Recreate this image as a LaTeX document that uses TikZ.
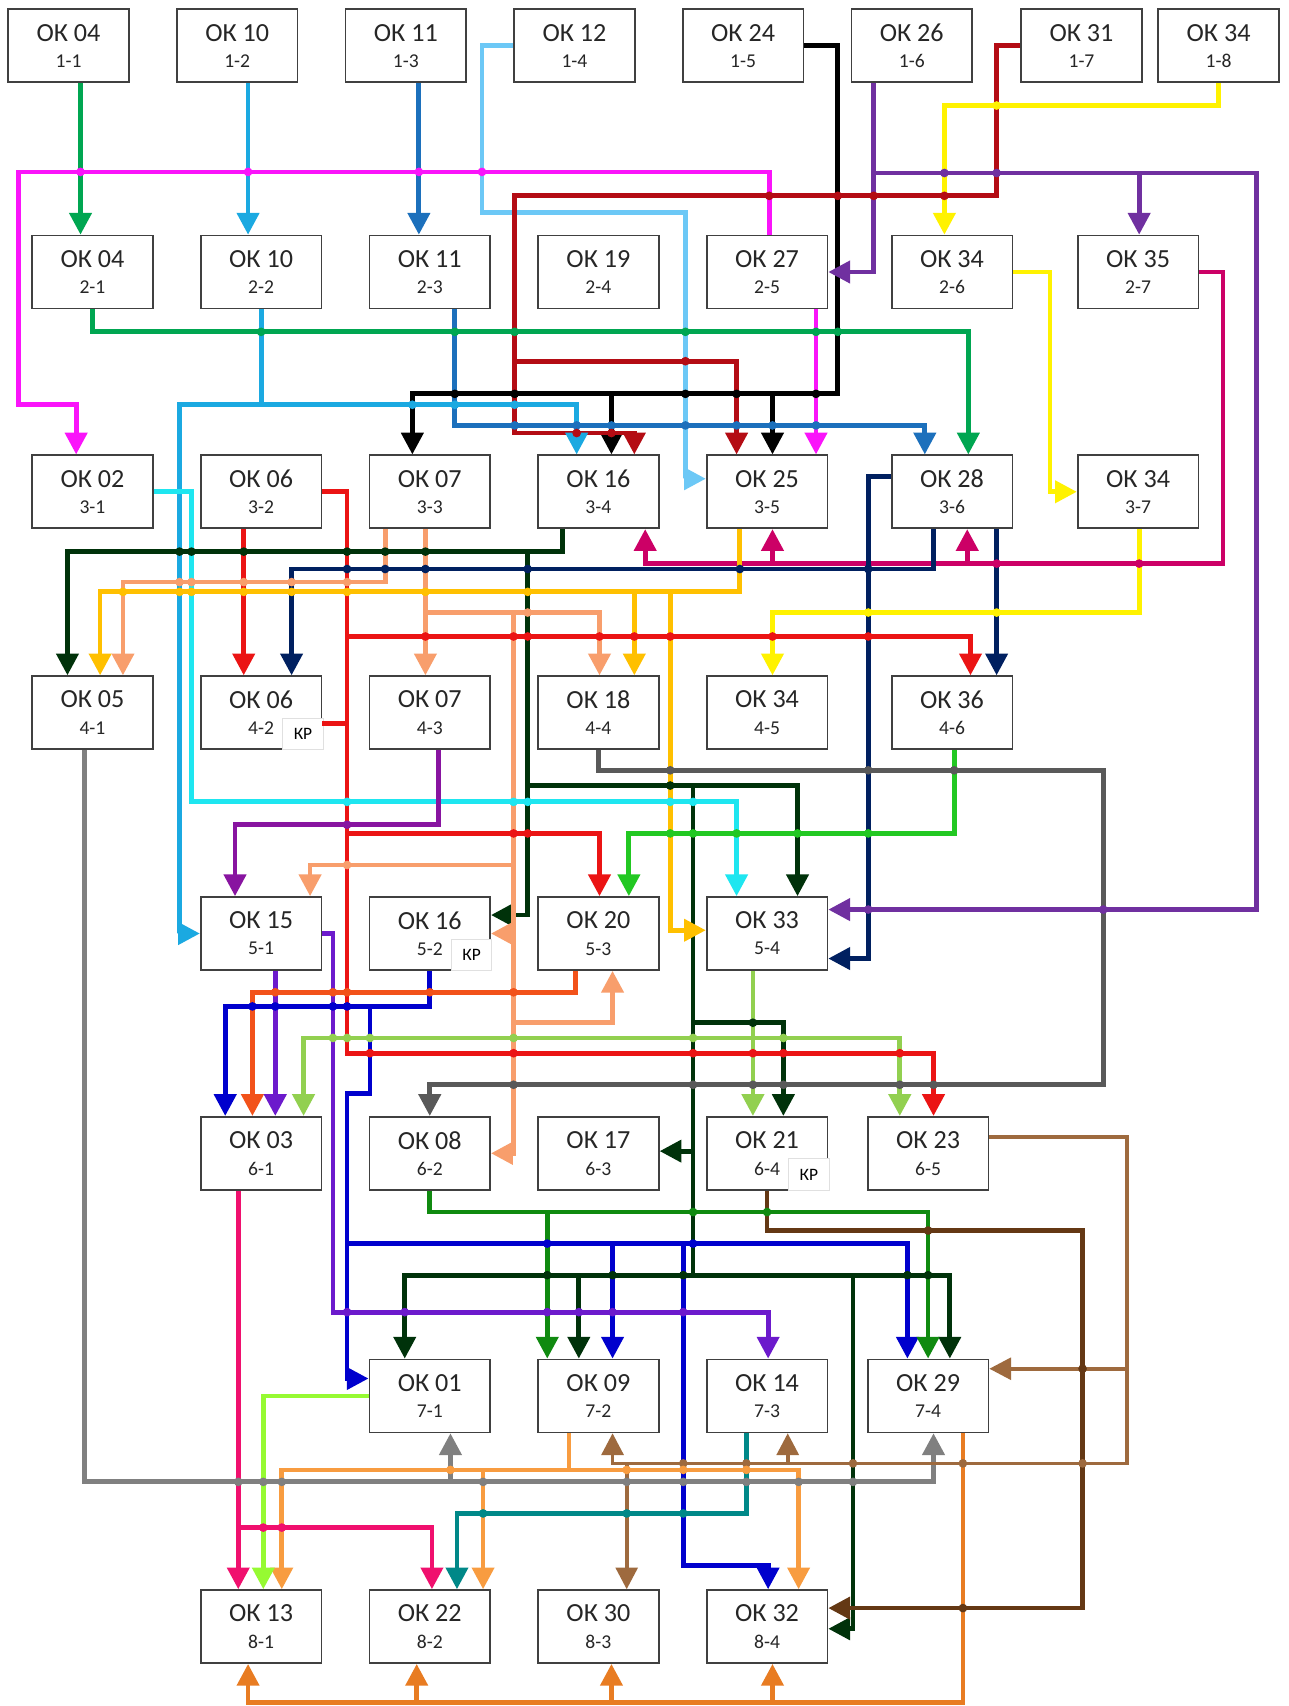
\documentclass[tikz,border=0pt]{standalone}
\usepackage{fontspec}
\setmainfont{Carlito}
\usetikzlibrary{arrows.meta}

\definecolor{WireGreen}{RGB}{0,166,81}
\definecolor{WireSky}{RGB}{27,169,225}
\definecolor{WireSteel}{RGB}{28,112,188}
\definecolor{WireMagenta}{RGB}{250,20,250}
\definecolor{WirePaleSky}{RGB}{108,200,246}
\definecolor{WirePurple}{RGB}{112,48,160}
\definecolor{WireDarkRed}{RGB}{180,12,20}
\definecolor{WireYellow}{RGB}{255,242,0}
\definecolor{WireRasp}{RGB}{204,0,102}
\definecolor{WireCyan}{RGB}{30,230,240}
\definecolor{WireRed}{RGB}{235,20,20}
\definecolor{WireDarkGreen}{RGB}{0,50,10}
\definecolor{WireNavy}{RGB}{0,32,96}
\definecolor{WirePeach}{RGB}{248,158,108}
\definecolor{WireAmber}{RGB}{255,192,0}
\definecolor{WireGrey}{RGB}{89,89,89}
\definecolor{WireLeaf}{RGB}{34,200,34}
\definecolor{WireViolet}{RGB}{136,20,160}
\definecolor{WireVermilion}{RGB}{242,82,26}
\definecolor{WireBlue}{RGB}{0,0,205}
\definecolor{WireIndigo}{RGB}{108,26,204}
\definecolor{WireLime}{RGB}{146,208,80}
\definecolor{WireForest}{RGB}{16,138,16}
\definecolor{WireBrown}{RGB}{100,56,20}
\definecolor{WireTan}{RGB}{158,106,62}
\definecolor{WireSilver}{RGB}{128,128,128}
\definecolor{WireOrange}{RGB}{248,156,64}
\definecolor{WireTeal}{RGB}{0,136,136}
\definecolor{WirePink}{RGB}{240,16,110}
\definecolor{WireChartreuse}{RGB}{150,250,50}
\definecolor{WireOchre}{RGB}{232,124,34}

% one course box: name, x, y, number, place
\newcommand{\okbox}[5]{%
  \node[okcell] (#1) at (#2,#3) {};
  \node[oknum] (#1t) at ([yshift=6pt]#1.center) {ОК #4};
  \node[okpos] (#1s) at ([yshift=-7pt]#1.center) {#5};
}

\begin{document}
\begin{tikzpicture}[x=0.5pt, y=-0.5pt,
    okcell/.style={draw=black!75, line width=0.8pt, fill=white, minimum width=55.5pt, minimum height=33.5pt, inner sep=0pt},
    oknum/.style={font=\fontsize{12}{14}\selectfont, text=black!85, inner sep=0pt},
    okpos/.style={font=\fontsize{9}{11}\selectfont, text=black!85, inner sep=0pt},
    krnote/.style={draw=black!12, line width=0.4pt, fill=white, font=\fontsize{8}{9}\selectfont, minimum width=18.5pt, minimum height=14.5pt, inner sep=0pt},
    wire/.style={line width=2.2pt},
    arr/.style={-{Triangle[length=10pt,width=10pt]}}]
    \fill[white] (0,0) rectangle (1184,1568);
    \useasboundingbox (0,0) rectangle (1184,1568);

    % Row 1
    \okbox{n11}{63}{42}{04}{1-1}
    \okbox{n12}{218}{42}{10}{1-2}
    \okbox{n13}{373}{42}{11}{1-3}
    \okbox{n14}{528}{42}{12}{1-4}
    \okbox{n15}{683}{42}{24}{1-5}
    \okbox{n16}{838}{42}{26}{1-6}
    \okbox{n17}{994}{42}{31}{1-7}
    \okbox{n18}{1120}{42}{34}{1-8}
    % Row 2
    \okbox{n21}{85}{250}{04}{2-1}
    \okbox{n22}{240}{250}{10}{2-2}
    \okbox{n23}{395}{250}{11}{2-3}
    \okbox{n24}{550}{250}{19}{2-4}
    \okbox{n25}{705}{250}{27}{2-5}
    \okbox{n26}{875}{250}{34}{2-6}
    \okbox{n27}{1046}{250}{35}{2-7}
    % Row 3
    \okbox{n31}{85}{452}{02}{3-1}
    \okbox{n32}{240}{452}{06}{3-2}
    \okbox{n33}{395}{452}{07}{3-3}
    \okbox{n34}{550}{452}{16}{3-4}
    \okbox{n35}{705}{452}{25}{3-5}
    \okbox{n36}{875}{452}{28}{3-6}
    \okbox{n37}{1046}{452}{34}{3-7}
    % Row 4
    \okbox{n41}{85}{655}{05}{4-1}
    \okbox{n42}{240}{655}{06}{4-2}
    \okbox{n43}{395}{655}{07}{4-3}
    \okbox{n44}{550}{655}{18}{4-4}
    \okbox{n45}{705}{655}{34}{4-5}
    \okbox{n46}{875}{655}{36}{4-6}
    % Row 5
    \okbox{n51}{240}{858}{15}{5-1}
    \okbox{n52}{395}{858}{16}{5-2}
    \okbox{n53}{550}{858}{20}{5-3}
    \okbox{n54}{705}{858}{33}{5-4}
    % Row 6
    \okbox{n61}{240}{1060}{03}{6-1}
    \okbox{n62}{395}{1060}{08}{6-2}
    \okbox{n63}{550}{1060}{17}{6-3}
    \okbox{n64}{705}{1060}{21}{6-4}
    \okbox{n65}{853}{1060}{23}{6-5}
    % Row 7
    \okbox{n71}{395}{1283}{01}{7-1}
    \okbox{n72}{550}{1283}{09}{7-2}
    \okbox{n73}{705}{1283}{14}{7-3}
    \okbox{n74}{853}{1283}{29}{7-4}
    % Row 8
    \okbox{n81}{240}{1495}{13}{8-1}
    \okbox{n82}{395}{1495}{22}{8-2}
    \okbox{n83}{550}{1495}{30}{8-3}
    \okbox{n84}{705}{1495}{32}{8-4}

    % Notes
    \node[krnote] (n42k) at ([xshift=19.25pt,yshift=-9.75pt]n42.center) {КР};
    \node[krnote] (n52k) at ([xshift=19.25pt,yshift=-9.75pt]n52.center) {КР};
    \node[krnote] (n64k) at ([xshift=19.25pt,yshift=-9.75pt]n64.center) {КР};

    % Wires from row 1
    \draw[wire, WireGreen, arr] (n11.south -| 74,0) -- (n21.north -| 74,0);
    \draw[wire, WireSky, arr] (n12.south -| 228,0) -- (n22.north -| 228,0);
    \draw[wire, WireSteel, arr] (n13.south -| 385,0) -- (n23.north -| 385,0);
    \draw[wire, WirePaleSky, arr] (n14.west) -| (443,195) -| (630,440) -- (n35.west |- 0,440);
    \draw[wire, black, arr] (n15.east) -| (770,362) -| (n33.north -| 379,0);
    \draw[wire, black, arr] (562,362) -- (n34.north -| 562,0);
    \draw[wire, black, arr] (710,362) -- (n35.north -| 710,0);
    \draw[wire, WirePurple, arr] (n16.south -| 803,0) |- (n25.east);
    \draw[wire, WirePurple, arr] (803,159) -| (1155,836) -- (n54.east |- 0,836);
    \draw[wire, WirePurple, arr] (1047,159) -- (n27.north -| 1047,0);
    \draw[wire, WireDarkRed, arr] (n17.west) -| (916,180) -| (473,398) -| (n34.north -| 583,0);
    \draw[wire, WireDarkRed, arr] (473,332) -| (n35.north -| 677,0);
    \draw[wire, WireYellow, arr] (n18.south) |- (868,97) -- (n26.north -| 868,0);

    % Wires from row 2
    \draw[wire, WireMagenta, arr] (n25.north -| 707,0) |- (17,158) |- (70,372) -- (n31.north -| 70,0);
    \draw[wire, WireMagenta, arr] (n25.south -| 750,0) -- (n35.north -| 750,0);
    \draw[wire, WireYellow, arr] (n26.east) -| (965,452) -- (n37.west);
    \draw[wire, WireRasp, arr] (n27.east) -| (1124,518) -| (n34.south -| 593,0);
    \draw[wire, WireRasp, arr] (710,518) -- (n35.south -| 710,0);
    \draw[wire, WireRasp, arr] (889,518) -- (n36.south -| 889,0);
    \draw[wire, WireSteel, arr] (n23.south -| 418,0) |- (850,391) -- (n36.north -| 850,0);
    \draw[wire, WireSky, arr] (n22.south) |- (165,372) |- (n51.west);
    \draw[wire, WireSky, arr] (240,372) -| (n34.north -| 530,0);
    \draw[wire, WireGreen, arr] (n21.south) |- (890,305) -- (n36.north -| 890,0);

    % Wires from row 3
    \draw[wire, WireCyan, arr] (n31.east) -| (176,737) -| (n54.north -| 677,0);
    \draw[wire, WireRed, arr] (n32.east) -| (319,968) -| (n65.north -| 858,0);
    \draw[wire, WireRed, arr] (319,585) -| (n46.north -| 892,0);
    \draw[wire, WireRed, arr] (319,766) -| (n53.north -| 551,0);
    \draw[wire, WireRed] (n42.east |- 0,665) -- (319,665);
    \draw[wire, WireRed, arr] (n32.south -| 224,0) -- (n42.north -| 224,0);
    \draw[wire, WireDarkGreen, arr] (n34.south -| 517,0) |- (62,507) -- (n41.north -| 62,0);
    \draw[wire, WireDarkGreen, arr] (485,507) |- (n52.east |- 0,841);
    \draw[wire, WireDarkGreen, arr] (485,722) -| (n54.north -| 733,0);
    \draw[wire, WireDarkGreen] (637,722) -- (637,1172);
    \draw[wire, WireDarkGreen, arr] (637,940) -| (n64.north -| 720,0);
    \draw[wire, WireDarkGreen, arr] (637,1058) -- (n63.east |- 0,1058);
    \draw[wire, WireDarkGreen, arr] (637,1172) -| (n71.north -| 372,0);
    \draw[wire, WireDarkGreen, arr] (637,1172) -| (n74.north -| 873,0);
    \draw[wire, WireDarkGreen, arr] (532,1172) -- (n72.north -| 532,0);
    \draw[wire, WireDarkGreen, arr] (784,1172) |- (n84.east |- 0,1497);
    \draw[wire, WireNavy, arr] (n36.south -| 858,0) |- (268,523) -- (n42.north -| 268,0);
    \draw[wire, WireNavy, arr] (n36.west |- 0,438) -| (798,881) -- (n54.east |- 0,881);
    \draw[wire, WireNavy, arr] (n36.south -| 916,0) -- (n46.north -| 916,0);
    \draw[wire, WirePeach, arr] (n33.south -| 354,0) |- (113,535) -- (n41.north -| 113,0);
    \draw[wire, WirePeach, arr] (n33.south -| 391,0) -- (n43.north -| 391,0);
    \draw[wire, WirePeach, arr] (391,563) -| (n44.north -| 551,0);
    \draw[wire, WirePeach, arr] (472,563) |- (n62.east |- 0,1060);
    \draw[wire, WirePeach, arr] (472,795) -| (n51.north -| 285,0);
    \draw[wire, WirePeach, arr] (472,858) -- (n52.east |- 0,858);
    \draw[wire, WirePeach, arr] (472,940) -| (n53.south -| 563,0);
    \draw[wire, WireAmber, arr] (n35.south -| 680,0) |- (92,544) -- (n41.north -| 92,0);
    \draw[wire, WireAmber, arr] (583,544) -- (n44.north -| 583,0);
    \draw[wire, WireAmber, arr] (616,544) |- (n54.west |- 0,855);
    \draw[wire, WireYellow, arr] (n37.south -| 1047,0) |- (710,563) -- (n45.north -| 710,0);

    % Wires from row 4
    \draw[wire, WireGrey, arr] (n44.south) |- (1014,708) |- (395,997) -- (n62.north);
    \draw[wire, WireLeaf, arr] (n46.south -| 877,0) |- (578,766) -- (n53.north -| 578,0);
    \draw[wire, WireViolet, arr] (n43.south -| 403,0) |- (216,758) -- (n51.north -| 216,0);
    \draw[wire, WireSilver, arr] (n41.south -| 78,0) |- (858,1362) -- (n74.south -| 858,0);
    \draw[wire, WireSilver, arr] (414,1362) -- (n71.south -| 414,0);

    % Wires from row 5
    \draw[wire, WireVermilion, arr] (n53.south -| 529,0) |- (232,912) -- (n61.north -| 232,0);
    \draw[wire, WireBlue, arr] (n52.south) |- (207,925) -- (n61.north -| 207,0);
    \draw[wire, WireBlue, arr] (340,925) |- (319,1005) |- (n71.west |- 0,1267);
    \draw[wire, WireBlue, arr] (319,1143) -| (n74.north -| 834,0);
    \draw[wire, WireBlue, arr] (563,1143) -- (n72.north -| 563,0);
    \draw[wire, WireBlue, arr] (628,1143) |- (706,1439) -- (n84.north -| 706,0);
    \draw[wire, WireIndigo, arr] (n51.south -| 253,0) -- (n61.north -| 253,0);
    \draw[wire, WireIndigo, arr] (n51.east) -| (306,1206) -| (n73.north -| 706,0);
    \draw[wire, WireLime, arr] (n54.south -| 692,0) -- (n64.north -| 692,0);
    \draw[wire, WireLime, arr] (692,954) -| (n61.north -| 279,0);
    \draw[wire, WireLime, arr] (692,954) -| (n65.north -| 827,0);

    % Wires from row 6
    \draw[wire, WireForest, arr] (n62.south) -- (395,1114) -| (n74.north);
    \draw[wire, WireForest, arr] (503,1114) -- (n72.north -| 503,0);
    \draw[wire, WireBrown, arr] (n64.south) |- (995,1131) |- (n84.east |- 0,1478);
    \draw[wire, WireTan, line width=1.7pt, arr] (n65.east |- 0,1045) -| (1036,1345) -| (n72.south -| 563,0);
    \draw[wire, WireTan, line width=1.7pt, arr] (1036,1258) -- (n74.east |- 0,1258);
    \draw[wire, WireTan, line width=1.7pt, arr] (724,1345) -- (n73.south -| 724,0);
    \draw[wire, WireTan, line width=1.7pt, arr] (576,1345) -- (n83.north -| 576,0);
    \draw[wire, WirePink, arr] (n61.south -| 219,0) -- (n81.north -| 219,0);
    \draw[wire, WirePink, arr] (219,1404) -| (n82.north -| 397,0);

    % Wires from row 7
    \draw[wire, WireOrange, arr] (n72.south -| 523,0) |- (259,1351) -- (n81.north -| 259,0);
    \draw[wire, WireOrange, arr] (523,1351) -| (n84.north -| 734,0);
    \draw[wire, WireOrange, arr] (444,1351) -- (n82.north -| 444,0);
    \draw[wire, WireTeal, arr] (n73.south -| 686,0) |- (420,1391) -- (n82.north -| 420,0);
    \draw[wire, WireChartreuse, arr] (n71.west) -| (n81.north -| 242,0);
    \draw[wire, WireOchre, arr] (n74.south -| 885,0) |- (228,1565) -- (n81.south -| 228,0);
    \draw[wire, WireOchre, arr] (383,1565) -- (n82.south -| 383,0);
    \draw[wire, WireOchre, arr] (562,1565) -- (n83.south -| 562,0);
    \draw[wire, WireOchre, arr] (710,1565) -- (n84.south -| 710,0);

    % Crossing dots
    \foreach \x in {74,228,385,443} \fill[WireMagenta] (\x,158) circle (4);
    \foreach \x in {868,916} \fill[WirePurple] (\x,159) circle (4);
    \fill[WireYellow] (916,97) circle (4);
    \foreach \x in {707,770,803,868} \fill[WireDarkRed] (\x,180) circle (4);
    \foreach \x in {240,418,473,630,750,770} \fill[WireGreen] (\x,305) circle (4);
    \fill[WireDarkRed] (630,332) circle (4);
    \foreach \x in {418,473,630,677,750} \fill[black] (\x,362) circle (4);
    \foreach \x in {379,418,473} \fill[WireSky] (\x,372) circle (4);
    \foreach \x in {473,530,562,630,677,710,750} \fill[WireSteel] (\x,391) circle (4);
    \foreach \x in {530,562} \fill[WireDarkRed] (\x,398) circle (4);
    \foreach \x in {165,176,224,319,354,391} \fill[WireDarkGreen] (\x,507) circle (4);
    \foreach \x in {916,1047} \fill[WireRasp] (\x,518) circle (4);
    \foreach \x in {319,354,391,485,680,798} \fill[WireNavy] (\x,523) circle (4);
    \foreach \x in {165,176,224,268,319} \fill[WirePeach] (\x,535) circle (4);
    \foreach \x in {113,165,176,224,268,319,391,485} \fill[WireAmber] (\x,544) circle (4);
    \fill[WirePeach] (485,563) circle (4);
    \foreach \x in {798,916} \fill[WireYellow] (\x,563) circle (4);
    \foreach \x in {391,472,485,551,583,616,710,798} \fill[WireRed] (\x,585) circle (4);
    \foreach \x in {616,798,877} \fill[WireGrey] (\x,708) circle (4);
    \fill[WireDarkGreen] (616,722) circle (4);
    \foreach \x in {319,472,485,616,637} \fill[WireCyan] (\x,737) circle (4);
    \fill[WireViolet] (319,758) circle (4);
    \foreach \x in {472,485} \fill[WireRed] (\x,766) circle (4);
    \foreach \x in {616,637,677,733,798} \fill[WireLeaf] (\x,766) circle (4);
    \fill[WirePeach] (319,795) circle (4);
    \foreach \x in {798,1014} \fill[WirePurple] (\x,836) circle (4);
    \foreach \x in {253,306,319,395,472} \fill[WireVermilion] (\x,912) circle (4);
    \foreach \x in {232,253,306,319} \fill[WireBlue] (\x,925) circle (4);
    \fill[WireDarkGreen] (692,940) circle (4);
    \foreach \x in {306,319,340,472,637,720} \fill[WireLime] (\x,954) circle (4);
    \foreach \x in {340,472,637,692,720,827} \fill[WireRed] (\x,968) circle (4);
    \foreach \x in {472,637,692,720,827,858} \fill[WireGrey] (\x,997) circle (4);
    \foreach \x in {637,705} \fill[WireForest] (\x,1114) circle (4);
    \fill[WireBrown] (853,1131) circle (4);
    \foreach \x in {503,637} \fill[WireBlue] (\x,1143) circle (4);
    \foreach \x in {503,563,628,834,853} \fill[WireDarkGreen] (\x,1172) circle (4);
    \foreach \x in {319,372,503,532,563,628} \fill[WireIndigo] (\x,1206) circle (4);
    \fill[WireBrown] (995,1258) circle (4);
    \foreach \x in {628,686,784,885,995} \fill[WireTan] (\x,1345) circle (4);
    \foreach \x in {414,576,628,686} \fill[WireOrange] (\x,1351) circle (4);
    \foreach \x in {219,242,259,444,576,628,686,734,784} \fill[WireSilver] (\x,1362) circle (4);
    \foreach \x in {444,576,628} \fill[WireTeal] (\x,1391) circle (4);
    \foreach \x in {242,259} \fill[WirePink] (\x,1404) circle (4);
    \fill[WireBrown] (885,1478) circle (4);
\end{tikzpicture}
\end{document}
